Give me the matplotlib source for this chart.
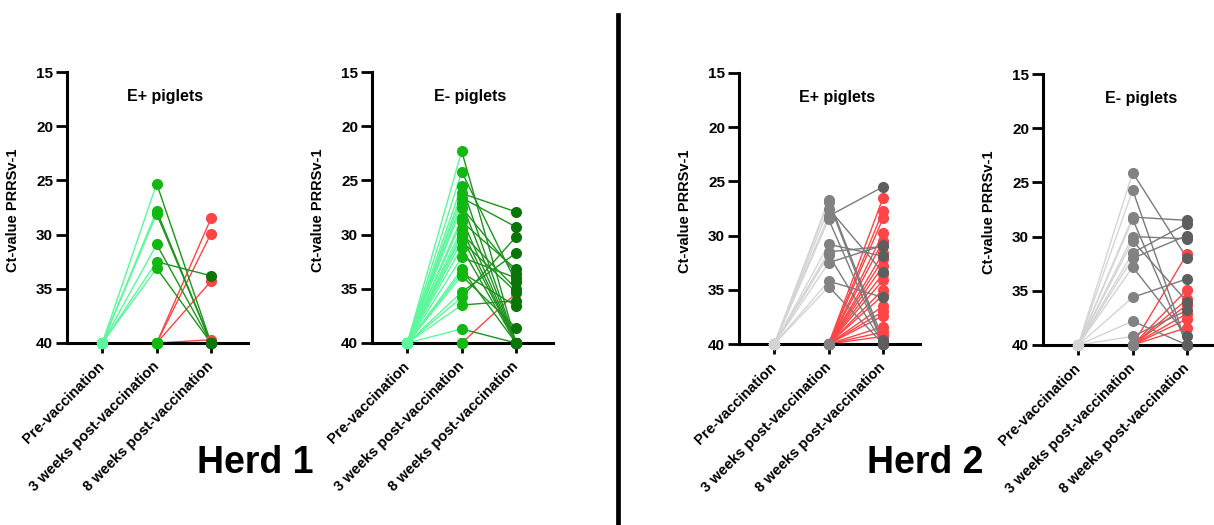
import matplotlib.pyplot as plt
from matplotlib.lines import Line2D

plt.rcParams['font.family'] = ['Liberation Sans', 'DejaVu Sans']
plt.rcParams['font.weight'] = 'bold'
plt.rcParams['axes.labelweight'] = 'bold'

TIMEPOINTS = ['Pre-vaccination', '3 weeks post-vaccination', '8 weeks post-vaccination']
YTICKS = [15, 20, 25, 30, 35, 40]
NEG = 40  # Ct value given to negative samples

# Herd 1, E+ piglets: positive at 3 weeks (3 weeks -> 8 weeks)
h1_pos_3wk = [25.3, 27.8, 28.1, 30.9, 32.5, 33.1, 40, 40, 40]
h1_pos_8wk = [40, 40, 40, 40, 33.8, 40, 40, 40, 40]
# Herd 1, E+ piglets: negative at 3 weeks, value at 8 weeks
h1_pos_late = [28.5, 29.9, 34.3, 39.7]

# Herd 1, E- piglets
h1_neg_3wk = [22.3, 24.2, 25.5, 26.2, 26.6, 27.1, 27.5, 28.5, 28.8, 29.5, 29.9, 30.2,
              30.6, 31.2, 32.1, 33.2, 33.5, 33.8, 35.3, 35.8, 36.5, 38.7, 40, 40]
h1_neg_8wk = [40, 34.4, 40, 27.9, 29.3, 40, 33.6, 40, 33.2, 40, 35.0, 40,
              35.3, 40, 34.0, 40, 36.6, 38.6, 31.7, 30.2, 36.1, 40, 40, 40]
h1_neg_late = [35.4]

# Herd 2, E+ piglets
h2_pos_3wk = [26.7, 26.9, 27.5, 28.2, 28.5, 30.8, 31.5, 31.8, 32.5, 34.2, 34.7, 40]
h2_pos_8wk = [39.6, 40, 33.4, 25.5, 40, 31.9, 31.0, 40, 30.9, 35.7, 40, 40]
h2_pos_late = [26.5, 27.7, 28.4, 29.8, 30.5, 31.6, 32.2, 32.8, 33.5, 34.1, 35.0, 35.5,
               36.5, 37.0, 37.4, 38.4, 38.9, 39.3]

# Herd 2, E- piglets
h2_neg_3wk = [24.1, 25.7, 28.2, 28.4, 30.0, 30.4, 31.5, 32.0, 32.8, 35.6, 37.8, 39.2, 40]
h2_neg_8wk = [32.0, 40, 28.5, 40, 30.2, 36.0, 28.8, 29.9, 39.2, 33.9, 40, 36.8, 40]
h2_neg_late = [31.6, 34.9, 35.8, 36.3, 37.1, 37.6, 38.4]

RED = '#FF4545'
GREENS = ('#5DF79C', '#12B812', '#1E921E', '#0A760A')
GRAYS = ('#D4D4D4', '#828282', '#7A7A7A', '#5E5E5E')


def draw_panel(ax, wk3, wk8, late, colors, title):
    pre_c, wk3_c, line_c, wk8_c = colors
    n = len(wk3) + len(late)
    # lines first
    for v in late:
        ax.plot([0, 1], [NEG, NEG], color=pre_c, lw=1, clip_on=False, zorder=2)
        ax.plot([1, 2], [NEG, v], color=RED, lw=1, clip_on=False, zorder=2)
    for a, b in zip(wk3, wk8):
        ax.plot([0, 1], [NEG, a], color=pre_c, lw=1, clip_on=False, zorder=2)
        ax.plot([1, 2], [a, b], color=line_c, lw=1, clip_on=False, zorder=2)
    # points
    ax.plot([2] * len(late), late, 'o', color=RED, ms=7, clip_on=False, zorder=3)
    ax.plot([0] * n, [NEG] * n, 'o', color=pre_c, ms=7, clip_on=False, zorder=4)
    ax.plot([1] * len(wk3), wk3, 'o', color=wk3_c, ms=7, clip_on=False, zorder=4)
    ax.plot([1] * len(late), [NEG] * len(late), 'o', color=wk3_c, ms=7, clip_on=False, zorder=4)
    ax.plot([2] * len(wk8), wk8, 'o', color=wk8_c, ms=7, clip_on=False, zorder=4)

    ax.set_ylim(40, 15)
    ax.set_xlim(-0.65, 2.68)
    ax.set_yticks(YTICKS)
    ax.set_xticks([0, 1, 2])
    ax.set_xticklabels(TIMEPOINTS, rotation=45, ha='right', va='center',
                       rotation_mode='anchor', fontsize=10.5)
    ax.tick_params(axis='y', length=8, width=2, labelsize=11, pad=2)
    ax.tick_params(axis='x', length=7, width=2, pad=8)
    for side in ['top', 'right']:
        ax.spines[side].set_visible(False)
    for side in ['left', 'bottom']:
        ax.spines[side].set_linewidth(2.2)
    ax.set_ylabel('Ct-value PRRSv-1', fontsize=10.5, fontweight='bold')
    ax.yaxis.set_label_coords(-0.26, 0.49)
    ax.text(1.15, 17.3, title, ha='center', va='center', fontsize=11.5)


fig = plt.figure(figsize=(12.14, 5.25), dpi=100)
W, H = 1214, 525
panels = [
    (67, 72, 343, h1_pos_3wk, h1_pos_8wk, h1_pos_late, GREENS, 'E+ piglets'),
    (372, 72, 343, h1_neg_3wk, h1_neg_8wk, h1_neg_late, GREENS, 'E- piglets'),
    (739, 73, 344, h2_pos_3wk, h2_pos_8wk, h2_pos_late, GRAYS, 'E+ piglets'),
    (1043, 74, 345, h2_neg_3wk, h2_neg_8wk, h2_neg_late, GRAYS, 'E- piglets'),
]
for left, top, bottom, wk3, wk8, late, colors, title in panels:
    ax = fig.add_axes([left / W, 1 - bottom / H, 181 / W, (bottom - top) / H])
    draw_panel(ax, wk3, wk8, late, colors, title)

fig.text(255 / W, 1 - 463 / H, 'Herd 1', ha='center', va='center', fontsize=27)
fig.text(925 / W, 1 - 463 / H, 'Herd 2', ha='center', va='center', fontsize=27)
fig.add_artist(Line2D([618 / W, 618 / W], [1 - 15 / H, 0], color='black', lw=3.4,
                      transform=fig.transFigure))

fig.savefig('out.png', dpi=100)
